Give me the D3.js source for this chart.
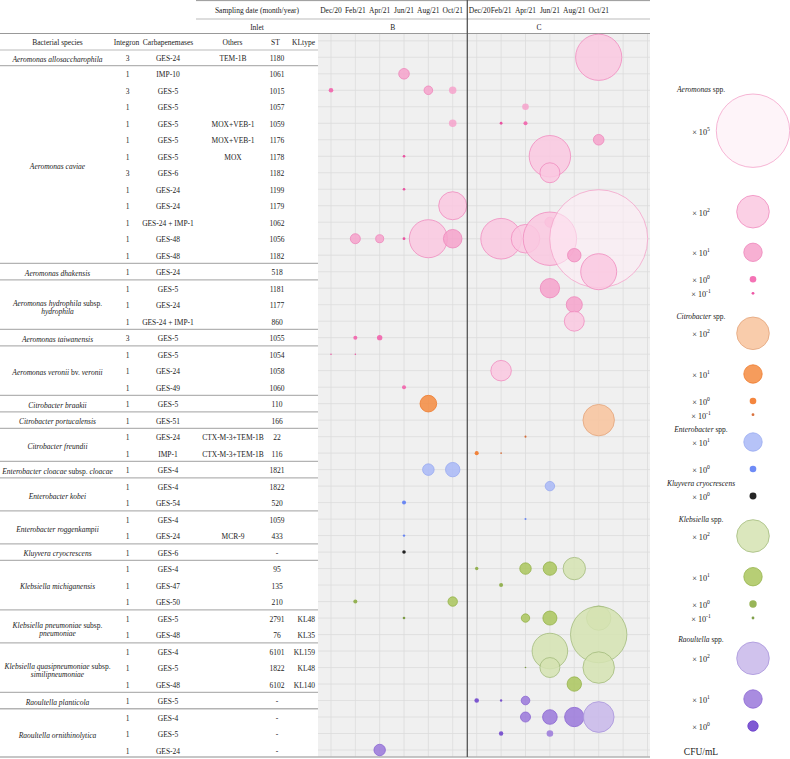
<!DOCTYPE html>
<html><head><meta charset="utf-8">
<script src="https://cdn.jsdelivr.net/npm/d3@7"></script>
<style>
body{margin:0;background:#fff}
svg{display:block}
text{font-family:"Liberation Serif","Times New Roman",serif;fill:#222}
</style>
</head><body>
<svg id="chart" width="790" height="759"></svg>
<script>
// ---------------- DATA ----------------
const months = ["Dec/20","Feb/21","Apr/21","Jun/21","Aug/21","Oct/21"];
const sites = ["B","C"];
const columnHeaders = ["Bacterial species","Integron","Carbapenemases","Others","ST","KLtype"];

const speciesNames = ["Aeromonas allosaccharophila","Aeromonas caviae","Aeromonas dhakensis",
  "Aeromonas hydrophila subsp.|hydrophila","Aeromonas taiwanensis","Aeromonas veronii bv. veronii",
  "Citrobacter braakii","Citrobacter portucalensis","Citrobacter freundii",
  "Enterobacter cloacae subsp. cloacae","Enterobacter kobei","Enterobacter roggenkampii",
  "Kluyvera cryocrescens","Klebsiella michiganensis","Klebsiella pneumoniae subsp.|pneumoniae",
  "Klebsiella quasipneumoniae subsp.|similipneumoniae","Raoultella planticola","Raoultella ornithinolytica"];
const speciesRowCounts = [1,12,1,3,1,3,1,1,2,1,2,2,1,3,2,3,1,3];
const speciesGenus = ["Aeromonas","Aeromonas","Aeromonas","Aeromonas","Aeromonas","Aeromonas",
  "Citrobacter","Citrobacter","Citrobacter","Enterobacter","Enterobacter","Enterobacter",
  "Kluyvera","Klebsiella","Klebsiella","Klebsiella","Raoultella","Raoultella"];

const integron = [3,1,3,1,1,1,1,3,1,1,1,1,1,1,1,1,1,3,1,1,1,1,1,1,1,1,1,1,1,1,1,1,1,1,1,1,1,1,1,1,1,1,1];
const carbapenemases = ["GES-24","IMP-10","GES-5","GES-5","GES-5","GES-5","GES-5","GES-6","GES-24","GES-24",
  "GES-24 + IMP-1","GES-48","GES-48","GES-24","GES-5","GES-24","GES-24 + IMP-1","GES-5","GES-5","GES-24",
  "GES-49","GES-5","GES-51","GES-24","IMP-1","GES-4","GES-4","GES-54","GES-4","GES-24","GES-6","GES-4",
  "GES-47","GES-50","GES-5","GES-48","GES-4","GES-5","GES-48","GES-5","GES-4","GES-5","GES-24"];
const others = ["TEM-1B","","","","MOX+VEB-1","MOX+VEB-1","MOX","","","","","","","","","","","","","","","",
  "","CTX-M-3+TEM-1B","CTX-M-3+TEM-1B","","","","","MCR-9","","","","","","","","","","","","",""];
const st = ["1180","1061","1015","1057","1059","1176","1178","1182","1199","1179","1062","1056","1182","518",
  "1181","1177","860","1055","1054","1058","1060","110","166","22","116","1821","1822","520","1059","433","-",
  "95","135","210","2791","76","6101","1822","6102","-","-","-","-"];
const kltype = ["","","","","","","","","","","","","","","","","","","","","","","","","","","","","","","",
  "","","","KL48","KL35","KL159","KL48","KL140","","","",""];

// bubbles: [row, site, month index, order of magnitude (x10^exp), log10 CFU/mL (size)]
const bubbles = [
  [0,"C",5,2,3.0],
  [1,"B",3,1,0.34],
  [2,"B",0,0,-0.53],[2,"B",4,1,0.17],[2,"B",5,1,0.07],
  [3,"C",2,1,0.0],
  [4,"B",5,1,0.08],[4,"C",1,-1,-1.0],[4,"C",2,0,-0.68],
  [5,"C",5,1,0.34],
  [6,"B",3,-1,-1.05],[6,"C",3,2,2.65],
  [7,"C",3,2,1.11],
  [8,"B",3,-1,-1.05],
  [9,"B",5,2,1.68],
  [10,"C",3,1,0.29],
  [11,"B",1,1,0.29],[11,"B",2,1,0.12],[11,"B",3,-1,-1.0],[11,"B",4,2,2.4],[11,"B",5,1,1.01],
  [11,"C",1,2,2.59],[11,"C",2,2,1.72],[11,"C",3,2,3.53],[11,"C",5,5,6.81],
  [12,"C",4,1,0.58],
  [13,"C",5,2,2.25],
  [14,"C",3,1,1.07],
  [15,"C",4,1,0.8],
  [16,"C",4,2,1.11],
  [17,"B",1,0,-0.68],[17,"B",2,0,-0.32],
  [18,"B",0,-1,-1.35],[18,"B",1,-1,-1.35],
  [19,"C",1,2,1.15],
  [20,"B",3,0,-0.68],
  [21,"B",4,1,0.85],
  [22,"C",5,2,1.92],
  [23,"C",2,-1,-1.2],
  [24,"C",0,0,-0.68],[24,"C",1,-1,-1.3],
  [25,"B",4,1,0.42],[25,"B",5,1,0.66],
  [26,"C",3,1,0.24],
  [27,"B",3,0,-0.68],
  [28,"C",2,0,-1.2],
  [29,"B",3,0,-1.1],
  [30,"B",3,0,-0.8],
  [31,"C",0,0,-0.84],[31,"C",2,1,0.41],[31,"C",3,1,0.58],[31,"C",4,2,1.28],
  [32,"C",1,0,-0.68],
  [33,"B",1,0,-0.68],[33,"B",5,1,0.24],
  [34,"B",3,-1,-1.05],[34,"C",2,1,0.15],[34,"C",3,1,0.63],[34,"C",5,2,1.42],
  [35,"C",5,2,3.75],
  [36,"C",3,2,2.22],
  [37,"C",2,-1,-1.3],[37,"C",3,2,1.11],[37,"C",5,2,1.92],
  [38,"C",4,1,0.66],
  [39,"C",0,0,-0.53],[39,"C",1,0,-1.1],[39,"C",2,1,0.17],
  [40,"C",2,1,0.29],[40,"C",3,1,0.68],[40,"C",4,1,1.07],[40,"C",5,2,1.87],
  [41,"C",1,0,-0.58],[41,"C",3,1,0.0],
  [42,"B",2,1,0.41]
];

// legend: genus titles and entries [genus, exp, log10 size]
const legendTitles = ["Aeromonas spp.","Citrobacter spp.","Enterobacter spp.","Kluyvera cryocrescens","Klebsiella spp.","Raoultella spp."];
const legendEntries = [
  ["Aeromonas",5,5],["Aeromonas",2,2],["Aeromonas",1,1],["Aeromonas",0,0],["Aeromonas",-1,-1],
  ["Citrobacter",2,2],["Citrobacter",1,1],["Citrobacter",0,0],["Citrobacter",-1,-1],
  ["Enterobacter",1,1],["Enterobacter",0,0],
  ["Kluyvera",0,0.03],
  ["Klebsiella",2,2],["Klebsiella",1,1],["Klebsiella",0,0.07],["Klebsiella",-1,-1],
  ["Raoultella",2,2],["Raoultella",1,1],["Raoultella",0,0.32]
];
const unitLabel = "CFU/mL";

// ---------------- STYLE / LAYOUT ----------------
const palette = {
  Aeromonas:   {5:["#fdedf5","#f4a3ca"],2:["#fac8e0","#f08cbf"],1:["#f6a2cb","#ee86bb"],0:["#f25ba8","#f25ba8"],"-1":["#ea3a95","#ea3a95"]},
  Citrobacter: {2:["#f8c39c","#e3a57b"],1:["#f58b40","#ee7a2c"],0:["#f2711c","#f2711c"],"-1":["#d2591c","#d2591c"]},
  Enterobacter:{1:["#a9b9f7","#98a9f0"],0:["#5577f4","#5577f4"]},
  Kluyvera:    {0:["#000000","#000000"]},
  Klebsiella:  {2:["#d5e3b1","#a3bb7c"],1:["#aac55d","#94b249"],0:["#86a83a","#86a83a"],"-1":["#6a8f2a","#6a8f2a"]},
  Raoultella:  {2:["#c8b7ea","#a995dc"],1:["#9a78da","#8a66d2"],0:["#6a3dcb","#6a3dcb"]}
};
const FS = 7.5;
const svg = d3.select("#chart");

const yRow = d3.scaleLinear().domain([0,42]).range([57.3,750]);
const xScale = {
  B: d3.scaleLinear().domain([0,5]).range([331,452.7]),
  C: d3.scaleLinear().domain([0,5]).range([476.7,598.7])
};
const rScale = d3.scaleLinear().domain([-1,0,1,2,5,7]).range([1.4,3.3,9.2,16.3,36.7,50.3]);

const plotL = 318, plotR = 650, plotT = 33.5, plotB = 757, sepX = 467.3;

// rows -> genus
const rowGenus = [];
const groupStarts = [];
speciesRowCounts.forEach((n,i)=>{ groupStarts.push(rowGenus.length); for(let k=0;k<n;k++) rowGenus.push(speciesGenus[i]); });

// plot background
svg.append("rect").attr("x",plotL).attr("y",plotT).attr("width",plotR-plotL).attr("height",plotB-plotT).attr("fill","#f0f0f0");

// grid
const grid = svg.append("g").attr("stroke","#dcdcdc").attr("stroke-width",0.8);
d3.range(-1,43).forEach(i=>{
  grid.append("line").attr("x1",plotL).attr("x2",plotR).attr("y1",yRow(i)).attr("y2",yRow(i));
});
d3.range(0,6).forEach(i=>{
  grid.append("line").attr("x1",xScale.B(i)).attr("x2",xScale.B(i)).attr("y1",plotT).attr("y2",plotB);
});
d3.range(0,8).forEach(i=>{
  grid.append("line").attr("x1",xScale.C(i)).attr("x2",xScale.C(i)).attr("y1",plotT).attr("y2",plotB);
});

// header lines
const hl = (x1,x2,y,c,w)=>svg.append("line").attr("x1",x1).attr("x2",x2).attr("y1",y).attr("y2",y).attr("stroke",c).attr("stroke-width",w);
hl(196,plotR,0.6,"#999",1);
hl(196,plotR,19,"#bbb",1);
hl(0,plotR,33.5,"#999",1);
hl(0,plotL,50,"#aaa",0.8);

// group separators in table
groupStarts.forEach((s,i)=>{
  const end = s + speciesRowCounts[i] - 1;
  const y = end===42 ? plotB : (yRow(end)+yRow(end+1))/2;
  hl(0, end===42?plotR:plotL, y, "#b3b3b3", 1.3);
});

// header texts
function txt(x,y,s,opts={}){
  return svg.append("text").attr("x",x).attr("y",y).attr("text-anchor",opts.anchor||"middle")
    .attr("dominant-baseline","central").attr("font-size",opts.size||FS)
    .attr("font-style",opts.italic?"italic":null).text(s);
}
txt(257,10,"Sampling date (month/year)");
txt(257,27,"Inlet");
txt((plotL+sepX)/2,27,sites[0]);
txt(539,27,sites[1]);
sites.forEach(site=>{
  months.forEach((m,i)=>{
    let x = xScale[site](i);
    const minX = sepX + 12.3;
    if(site==="C" && x < minX) x = minX;
    txt(x,10,m);
  });
});

// column headers
const colX = [57.5,126.5,168,232.5,275.5,315];
columnHeaders.forEach((h,i)=> txt(colX[i],42.3,h,{anchor: i===5?"end":"middle"}));

// table cells
const ty = i => yRow(i)+1.2;
integron.forEach((v,i)=>txt(127.5,ty(i),String(v)));
carbapenemases.forEach((v,i)=>txt(168,ty(i),v));
others.forEach((v,i)=>{ if(v) txt(233,ty(i),v); });
st.forEach((v,i)=>txt(277,ty(i),v));
kltype.forEach((v,i)=>{ if(v) txt(315,ty(i),v,{anchor:"end"}); });

// species names
const normalWords = new Set(["subsp.","bv.","spp."]);
function richText(x,y,str,size){
  const t = svg.append("text").attr("x",x).attr("y",y).attr("text-anchor","middle")
    .attr("dominant-baseline","central").attr("font-size",size||FS);
  str.split(" ").forEach((w,k)=>{
    t.append("tspan").attr("font-style", normalWords.has(w)?"normal":"italic").text((k?" ":"")+w);
  });
  return t;
}
speciesNames.forEach((name,i)=>{
  const s = groupStarts[i], e = s + speciesRowCounts[i]-1;
  const c = (yRow(s)+yRow(e))/2 + 1.2;
  const lines = name.split("|");
  if(lines.length===1) richText(57.5,c,lines[0]);
  else {
    const c2 = c + 1.3;
    richText(57.5,c2-4.2,lines[0]);
    richText(57.5,c2+4.2,lines[1]);
  }
});

// bubbles
const bg = svg.append("g");
bubbles.forEach(([row,site,m,exp,lg])=>{
  const col = palette[rowGenus[row]][exp];
  const r = rScale(lg);
  bg.append("circle").attr("cx",xScale[site](m)).attr("cy",yRow(row)).attr("r",r)
    .attr("fill",col[0]).attr("fill-opacity", exp>=5?0.6:0.85)
    .attr("stroke",col[1]).attr("stroke-width", r>4?0.8:0);
});

// separator between B and C
svg.append("line").attr("x1",sepX).attr("x2",sepX).attr("y1",0).attr("y2",plotB).attr("stroke","#555").attr("stroke-width",1.3);

// legend
const legX = 753, labX = 701;
const legendTitleY = [89,316,429,483,519,639];
const legendEntryY = [130.7,211.7,252.3,279.3,293.3, 333.3,374,401,414.7, 442,469, 496, 536,576.7,604,618, 658.3,699,726];
legendTitles.forEach((t,i)=>{
  if(t.endsWith(" spp.")) richText(labX,legendTitleY[i],t);
  else txt(labX,legendTitleY[i],t,{italic:true});
});
legendEntries.forEach(([g,exp,lg],i)=>{
  const y = legendEntryY[i];
  const col = palette[g][exp];
  const r = rScale(lg);
  svg.append("circle").attr("cx",legX).attr("cy",y).attr("r",r).attr("fill",col[0])
    .attr("fill-opacity", exp>=5?0.6:0.85).attr("stroke",col[1]).attr("stroke-width",r>4?0.8:0);
  const t = svg.append("text").attr("x",labX).attr("y",y+1).attr("text-anchor","middle")
    .attr("dominant-baseline","central").attr("font-size",8.2);
  t.append("tspan").text("× 10");
  t.append("tspan").attr("font-size",5.6).attr("dy",-3).text(exp<0?"-"+Math.abs(exp):String(exp));
});
txt(labX,752,unitLabel,{size:9.5});
</script>
</body></html>
